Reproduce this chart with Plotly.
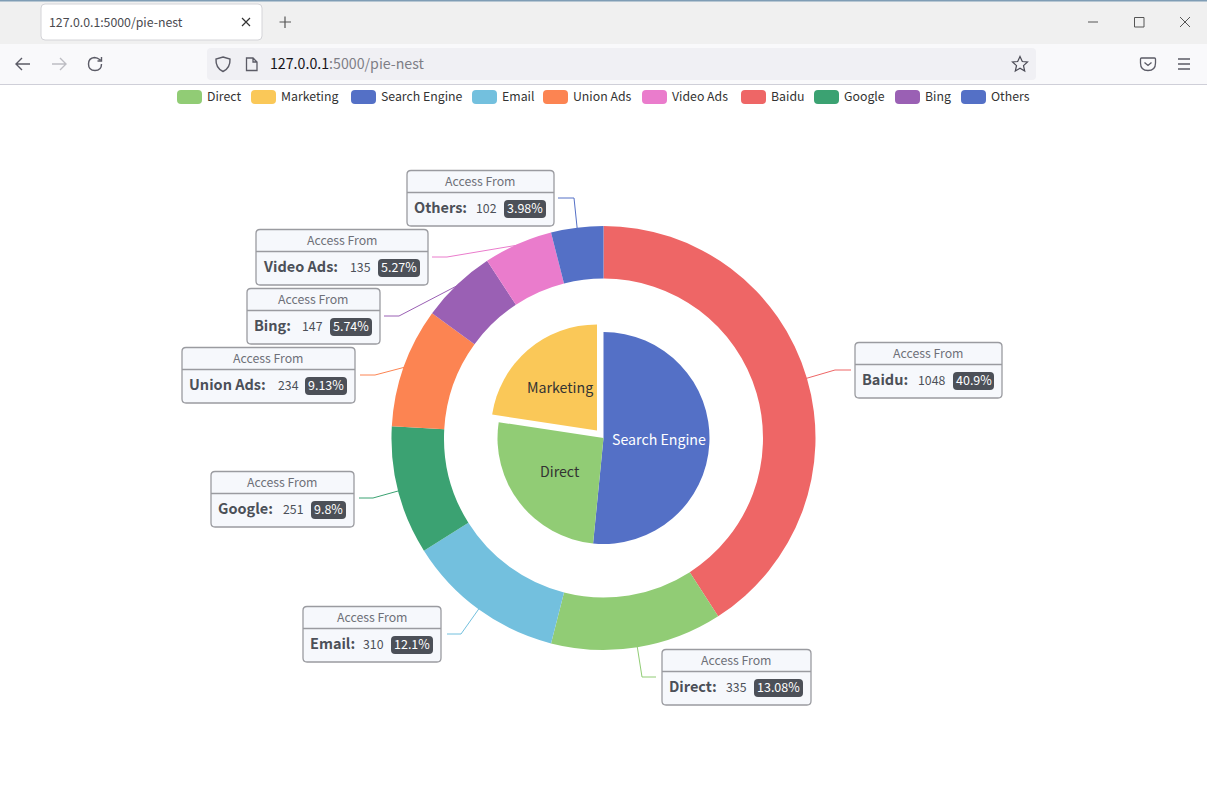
import math
import plotly.graph_objects as go

# ---------- data ----------
inner_labels = ["Search Engine", "Direct", "Marketing"]
inner_values = [1548, 775, 679]
inner_pull = [0, 0, 1]

outer_labels = ["Baidu", "Direct", "Email", "Google", "Union Ads", "Bing", "Video Ads", "Others"]
outer_values = [1048, 335, 310, 251, 234, 147, 135, 102]
outer_percents = ["40.9%", "13.08%", "12.1%", "9.8%", "9.13%", "5.74%", "5.27%", "3.98%"]

legend_labels = ["Direct", "Marketing", "Search Engine", "Email", "Union Ads",
                 "Video Ads", "Baidu", "Google", "Bing", "Others"]

# ---------- styles / layout ----------
W, H = 1207, 791
FONT = "Noto Sans CJK SC"
CX, CY, R_OUT, R_HOLE, R_IN, PULL_PX = 603.5, 438, 212, 159.5, 106, 10

color_of = {
    "Direct": "#91cc75", "Marketing": "#fac858", "Search Engine": "#5470c6",
    "Email": "#73c0de", "Union Ads": "#fc8452", "Video Ads": "#ea7ccc",
    "Baidu": "#ee6666", "Google": "#3ba272", "Bing": "#9a60b4", "Others": "#5470c6",
}
legend_x = [177, 251, 351, 472, 543, 642, 741, 814, 895, 961]

# box x0, y0, x1, value centre, badge left, line start x, elbow x, elbow y
label_layout = {
    "Baidu":     (855, 342, 1002, 931, 953, 851, 835, 370),
    "Direct":    (662, 649, 811, 736, 754, 656, 642, 677),
    "Email":     (303, 606, 441, 373, 391, 447, 461, 634),
    "Google":    (211, 471, 354, 293, 311, 359, 373, 498),
    "Union Ads": (182, 347, 355, 288, 305, 360, 375, 375),
    "Bing":      (247, 288, 380, 312, 330, 384, 399, 316),
    "Video Ads": (256, 229, 428, 360, 378, 432, 447, 257),
    "Others":    (407, 170, 554, 486, 504, 558, 574, 198),
}
inner_text_pos = {
    "Search Engine": (659, 439, "#ffffff"),
    "Direct": (559.5, 471, "#333333"),
    "Marketing": (560, 387, "#333333"),
}

shapes, annotations = [], []


def rrect(x0, y0, x1, y1, r):
    return (f"M{x0+r},{y0} L{x1-r},{y0} Q{x1},{y0} {x1},{y0+r} L{x1},{y1-r} Q{x1},{y1} {x1-r},{y1} "
            f"L{x0+r},{y1} Q{x0},{y1} {x0},{y1-r} L{x0},{y0+r} Q{x0},{y0} {x0+r},{y0} Z")


def path(d, fill=None, line=None, width=1, layer="above"):
    s = dict(type="path", path=d, xref="x", yref="y", layer=layer, line=dict(width=0))
    if fill:
        s["fillcolor"] = fill
    if line:
        s["line"] = dict(color=line, width=width)
    shapes.append(s)


def text(x, y, t, size=12, color="#333333", anchor="center", bold=False):
    annotations.append(dict(x=x, y=y, xref="x", yref="y", text=f"<b>{t}</b>" if bold else t,
                            showarrow=False, xanchor=anchor, yanchor="middle", borderpad=0,
                            font=dict(family=FONT, size=size, color=color)))


# ---------- browser chrome ----------
path(f"M0,0 L{W},0 L{W},44 L0,44 Z", fill="#f0f0f0", layer="below")
path(f"M0,0 L{W},0 L{W},1.5 L0,1.5 Z", fill="#7f9db5", layer="below")
path(f"M0,44 L{W},44 L{W},84 L0,84 Z", fill="#f9f9fb", layer="below")
path(f"M0,84.5 L{W},84.5", line="#cfcfd8", layer="below")
path(rrect(41, 4, 262, 40, 4), fill="#ffffff", line="#d4d4d8", layer="below")
path(rrect(207, 48, 1036, 80, 4), fill="#f0f0f4", layer="below")
text(48, 21.5, "127.0.0.1:5000/pie-nest", size=12.3, color="#4a4a4f", anchor="left")
annotations.append(dict(x=267.5, y=62.5, xref="x", yref="y", showarrow=False, xanchor="left", yanchor="middle",
                        text="<span style='color:#15141a'>127.0.0.1</span>:5000/pie-nest",
                        font=dict(family=FONT, size=14.2, color="#7e7e86")))
ICON = "#5b5b66"
path("M242,18 L250,26 M250,18 L242,26", line="#333333", width=1.2)
path("M285,16.5 L285,28 M279.5,22 L291,22", line="#555555", width=1.2)
path("M16,64 L30,64 M22,58 L16,64 L22,70", line=ICON, width=1.4)
path("M52,64 L66,64 M60,58 L66,64 L60,70", line="#bdbdc3", width=1.4)
path("M100.5,60 Q97,57.5 94.5,57.5 Q88.5,58 88.5,64 Q88.5,70.5 95,70.5 Q101.5,70.5 101.5,64 M101.5,57 L101.5,61 L97.5,61",
     line=ICON, width=1.4)
path("M223,57 L230,59 Q230.5,68 223,71.5 Q215.5,68 216,59 Z", line=ICON, width=1.4)
path("M246.5,58 L253,58 L257,62 L257,70.5 L246.5,70.5 Z M253,58 L253,62 L257,62", line=ICON, width=1.3)
path("M1020,56.5 L1022.3,61.5 L1027.5,62 L1023.5,65.6 L1024.7,71 L1020,68.2 L1015.3,71 L1016.5,65.6 L1012.5,62 L1017.7,61.5 Z",
     line="#4a4a55", width=1.2)
path("M1141.5,58 L1154.5,58 Q1155.5,58 1155.5,59 L1155.5,63 Q1155.5,70.5 1148,70.5 Q1140.5,70.5 1140.5,63 L1140.5,59 Q1140.5,58 1141.5,58 Z M1144.5,62.5 L1148,65.5 L1151.5,62.5",
     line=ICON, width=1.3)
path("M1178,59 L1190,59 M1178,64 L1190,64 M1178,69 L1190,69", line=ICON, width=1.3)
path("M1088,22 L1098,22", line="#555555")
path("M1134.5,17.5 L1144,17.5 L1144,27 L1134.5,27 Z", line="#555555")
path("M1180,17 L1190,27 M1190,17 L1180,27", line="#555555")

# ---------- legend ----------
for name, lx in zip(legend_labels, legend_x):
    path(rrect(lx, 90, lx + 25, 104, 4), fill=color_of[name])
    text(lx + 29, 95.5, name, size=12.3, color="#333333", anchor="left")

# ---------- callouts ----------
total = sum(outer_values)
cum = 0
for name, val, pct in zip(outer_labels, outer_values, outer_percents):
    mid = (cum + val / 2) / total * 2 * math.pi
    cum += val
    x0, y0, x1, vx, bx, sx, ex, ey = label_layout[name]
    rx, ry = CX + (R_OUT - 1) * math.sin(mid), CY - (R_OUT - 1) * math.cos(mid)
    path(f"M{rx:.1f},{ry:.1f} L{ex},{ey} L{sx},{ey}", line=color_of[name], width=1, layer="below")
    path(rrect(x0, y0 + .5, x1, y0 + 56, 4), fill="#f6f8fc", line="#9a9ba0", width=1.3)
    path(f"M{x0},{y0+22.5} L{x1},{y0+22.5}", line="#9a9ba0", width=1.3)
    path(rrect(bx, y0 + 30, x1 - 8, y0 + 48, 4), fill="#4c5058")
    text((x0 + x1) / 2, y0 + 10.5, "Access From", size=12.3, color="#6e7079")
    text(x0 + 6, y0 + 36.5, f"{name}:", size=14.5, color="#4c5058", anchor="left", bold=True)
    text(vx, y0 + 37.5, str(val), size=12.3, color="#4c5058")
    text((bx + x1 - 8) / 2, y0 + 37.5, pct, size=12.5, color="#ffffff")

for name, (tx, ty, tc) in inner_text_pos.items():
    text(tx, ty, name, size=14.2, color=tc)


# ---------- figure ----------
def domain(r):
    return dict(x=[(CX - r) / W, (CX + r) / W], y=[1 - (CY + r) / H, 1 - (CY - r) / H])


pull_frac = PULL_PX / R_IN
fig = go.Figure()
fig.add_trace(go.Scatter(x=[0, W], y=[0, H], mode="none", hoverinfo="skip", showlegend=False))
fig.add_trace(go.Pie(labels=inner_labels, values=inner_values, sort=False, direction="clockwise",
                     rotation=0, hole=0, domain=domain(R_IN + PULL_PX), textinfo="none",
                     pull=[p * pull_frac for p in inner_pull], showlegend=False,
                     marker=dict(colors=[color_of[n] for n in inner_labels], line=dict(width=0))))
fig.add_trace(go.Pie(labels=outer_labels, values=outer_values, sort=False, direction="clockwise",
                     rotation=0, hole=R_HOLE / R_OUT, domain=domain(R_OUT), textinfo="none", showlegend=False,
                     marker=dict(colors=[color_of[n] for n in outer_labels], line=dict(width=0))))
fig.update_layout(
    width=W, height=H, margin=dict(l=0, r=0, t=0, b=0), autosize=False,
    paper_bgcolor="#ffffff", plot_bgcolor="rgba(0,0,0,0)", showlegend=False,
    font=dict(family=FONT),
    xaxis=dict(range=[0, W], visible=False, fixedrange=True, domain=[0, 1]),
    yaxis=dict(range=[H, 0], visible=False, fixedrange=True, domain=[0, 1]),
    shapes=shapes, annotations=annotations,
)
fig.write_html("out.html", config=dict(displayModeBar=False),
               post_script="document.body.style.margin='0';document.body.style.overflow='hidden';")
